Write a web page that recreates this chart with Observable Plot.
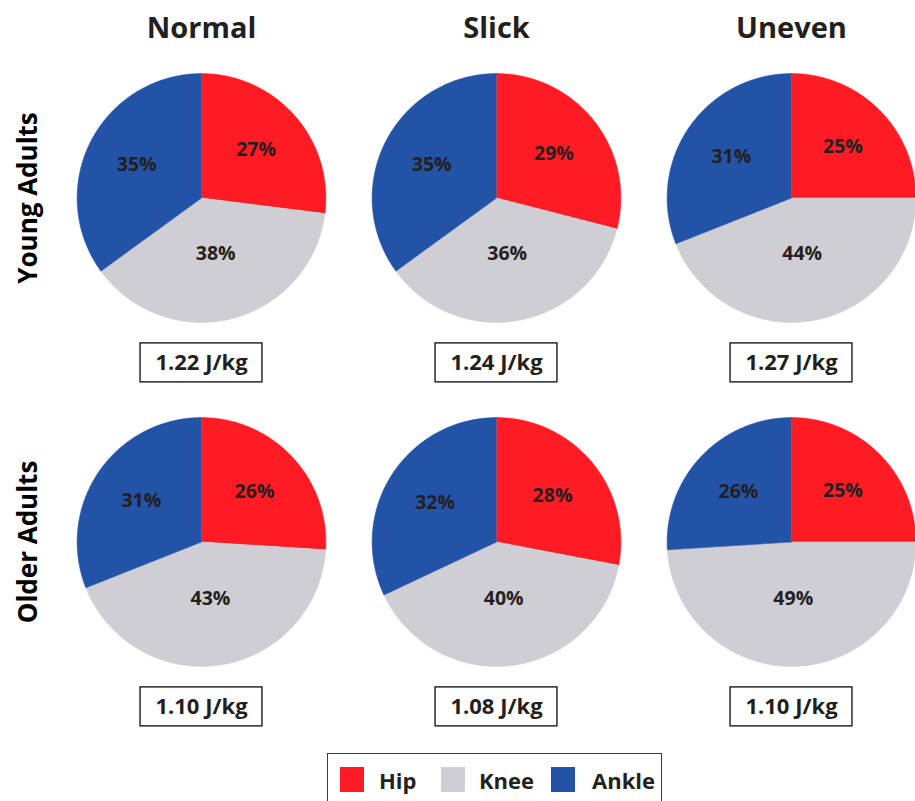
<!DOCTYPE html>
<html>
<head>
<meta charset="utf-8">
<script src="https://cdn.jsdelivr.net/npm/d3@7"></script>
<script src="https://cdn.jsdelivr.net/npm/@observablehq/plot@0.6"></script>
<style>
  html, body { margin: 0; padding: 0; background: #fff; }
  body { width: 915px; font-family: "Open Sans", sans-serif; }
  #chart svg { display: block; }
  #legend { position: relative; margin-left: 327px; margin-top: 3px; width: 333px; height: 50px;
            border: 1.5px solid #3a3a3a; border-bottom: none; box-sizing: content-box; }
  .sw { position: absolute; top: 13px; width: 24px; height: 25px; }
  .lt { position: absolute; top: 13px; height: 25px; display: flex; align-items: center;
        font-size: 22px; font-weight: 700; color: #231f20; }
</style>
</head>
<body>
<div id="chart"></div>
<div id="legend"></div>
<script>
// ---- data ----
const conditions = ["Normal", "Slick", "Uneven"];
const groups = ["Young Adults", "Older Adults"];
const joints = ["Hip", "Knee", "Ankle"];
const jointColors = ["#ff1b24", "#cfced4", "#2353a6"];

const youngHip = [27, 29, 25];
const youngKnee = [38, 36, 44];
const youngAnkle = [35, 35, 31];
const olderHip = [26, 28, 25];
const olderKnee = [43, 40, 49];
const olderAnkle = [31, 32, 26];

const youngWork = [1.22, 1.24, 1.27];
const olderWork = [1.10, 1.08, 1.10];

// ---- build tables ----
const series = {
  "Young Adults": {Hip: youngHip, Knee: youngKnee, Ankle: youngAnkle, work: youngWork},
  "Older Adults": {Hip: olderHip, Knee: olderKnee, Ankle: olderAnkle, work: olderWork}
};

const slicePts = [];
const labels = [];
const works = [];
groups.forEach(g => {
  conditions.forEach((c, ci) => {
    const vals = joints.map(j => series[g][j][ci]);
    const total = d3.sum(vals);
    const arcs = d3.pie().sort(null).value(d => d)(vals);
    arcs.forEach((a, ji) => {
      const id = `${g}-${c}-${joints[ji]}`;
      const n = Math.max(2, Math.ceil((a.endAngle - a.startAngle) / (Math.PI / 180)));
      slicePts.push({id, group: g, condition: c, joint: joints[ji], x: 0, y: 0});
      for (let k = 0; k <= n; k++) {
        const t = a.startAngle + (a.endAngle - a.startAngle) * k / n;
        slicePts.push({id, group: g, condition: c, joint: joints[ji], x: Math.sin(t), y: Math.cos(t)});
      }
      const mid = (a.startAngle + a.endAngle) / 2;
      const rr = joints[ji] === "Knee" ? 0.46 : 0.585;
      labels.push({group: g, condition: c, x: rr * Math.sin(mid), y: rr * Math.cos(mid),
                   text: Math.round(vals[ji] / total * 100) + "%"});
    });
    works.push({group: g, condition: c, text: series[g].work[ci].toFixed(2) + " J/kg"});
  });
});

// ---- layout ----
const W = 915, H = 750, ML = 82, MR = 6, MT = 60;
const R = 124.5;               // pie radius in px
const padIn = 0.2;
const stepX = (W - ML - MR) / (conditions.length - padIn);
const bwX = stepX * (1 - padIn);
const stepY = 344;
const bwY = stepY * (1 - padIn);
const MB = H - MT - stepY * (groups.length - padIn);
const xHalf = bwX / 2 / R, yHalf = bwY / 2 / R;
const boxY = -165 / R, boxHW = 61 / R, boxHH = 19.5 / R;

const font = "'Open Sans', sans-serif";
const ink = "#231f20";

const chart = Plot.plot({
  width: W, height: H,
  marginLeft: ML, marginRight: MR, marginTop: MT, marginBottom: MB,
  style: {fontFamily: font, background: "#fff"},
  fx: {domain: conditions, paddingInner: padIn, paddingOuter: 0, axis: null},
  fy: {domain: groups, paddingInner: padIn, paddingOuter: 0, axis: null},
  x: {domain: [-xHalf, xHalf], axis: null},
  y: {domain: [-yHalf, yHalf], axis: null},
  color: {domain: joints, range: jointColors},
  marks: [
    Plot.line(slicePts, {x: "x", y: "y", z: "id", fx: "condition", fy: "group",
      fill: "joint", stroke: "joint", strokeWidth: 0.6, curve: "linear"}),
    Plot.text(labels, {x: "x", y: "y", fx: "condition", fy: "group", text: "text",
      fontSize: 19.5, fontWeight: 700, fill: ink}),
    Plot.rect(works, {x1: () => -boxHW, x2: () => boxHW, y1: () => boxY - boxHH, y2: () => boxY + boxHH,
      fx: "condition", fy: "group", fill: "#fff", stroke: "#2a2a2a", strokeWidth: 1.5}),
    Plot.text(works, {x: () => 0, y: () => boxY, fx: "condition", fy: "group", text: "text",
      fontSize: 22, fontWeight: 700, fill: ink}),
    Plot.text(conditions.map(c => ({condition: c, group: groups[0]})), {
      fx: "condition", fy: "group", text: "condition", frameAnchor: "top",
      textAnchor: "middle", lineAnchor: "middle", dy: -32,
      fontSize: 29, fontWeight: 700, fill: ink}),
    Plot.text(groups.map(g => ({condition: conditions[0], group: g})), {
      fx: "condition", fy: "group", text: "group", frameAnchor: "left",
      textAnchor: "middle", lineAnchor: "middle", dx: 27 - ML,
      rotate: -90, fontSize: 26, fontWeight: 700, fill: "#000"})
  ]
});
document.getElementById("chart").appendChild(chart);

// ---- legend ----
const legend = document.getElementById("legend");
const swLeft = [12, 113, 223], txtLeft = [51, 151, 264];
joints.forEach((j, i) => {
  const sw = document.createElement("div");
  sw.className = "sw";
  sw.style.left = swLeft[i] + "px";
  sw.style.background = jointColors[i];
  legend.appendChild(sw);
  const t = document.createElement("div");
  t.className = "lt";
  t.style.left = txtLeft[i] + "px";
  t.textContent = j;
  legend.appendChild(t);
});
</script>
</body>
</html>
